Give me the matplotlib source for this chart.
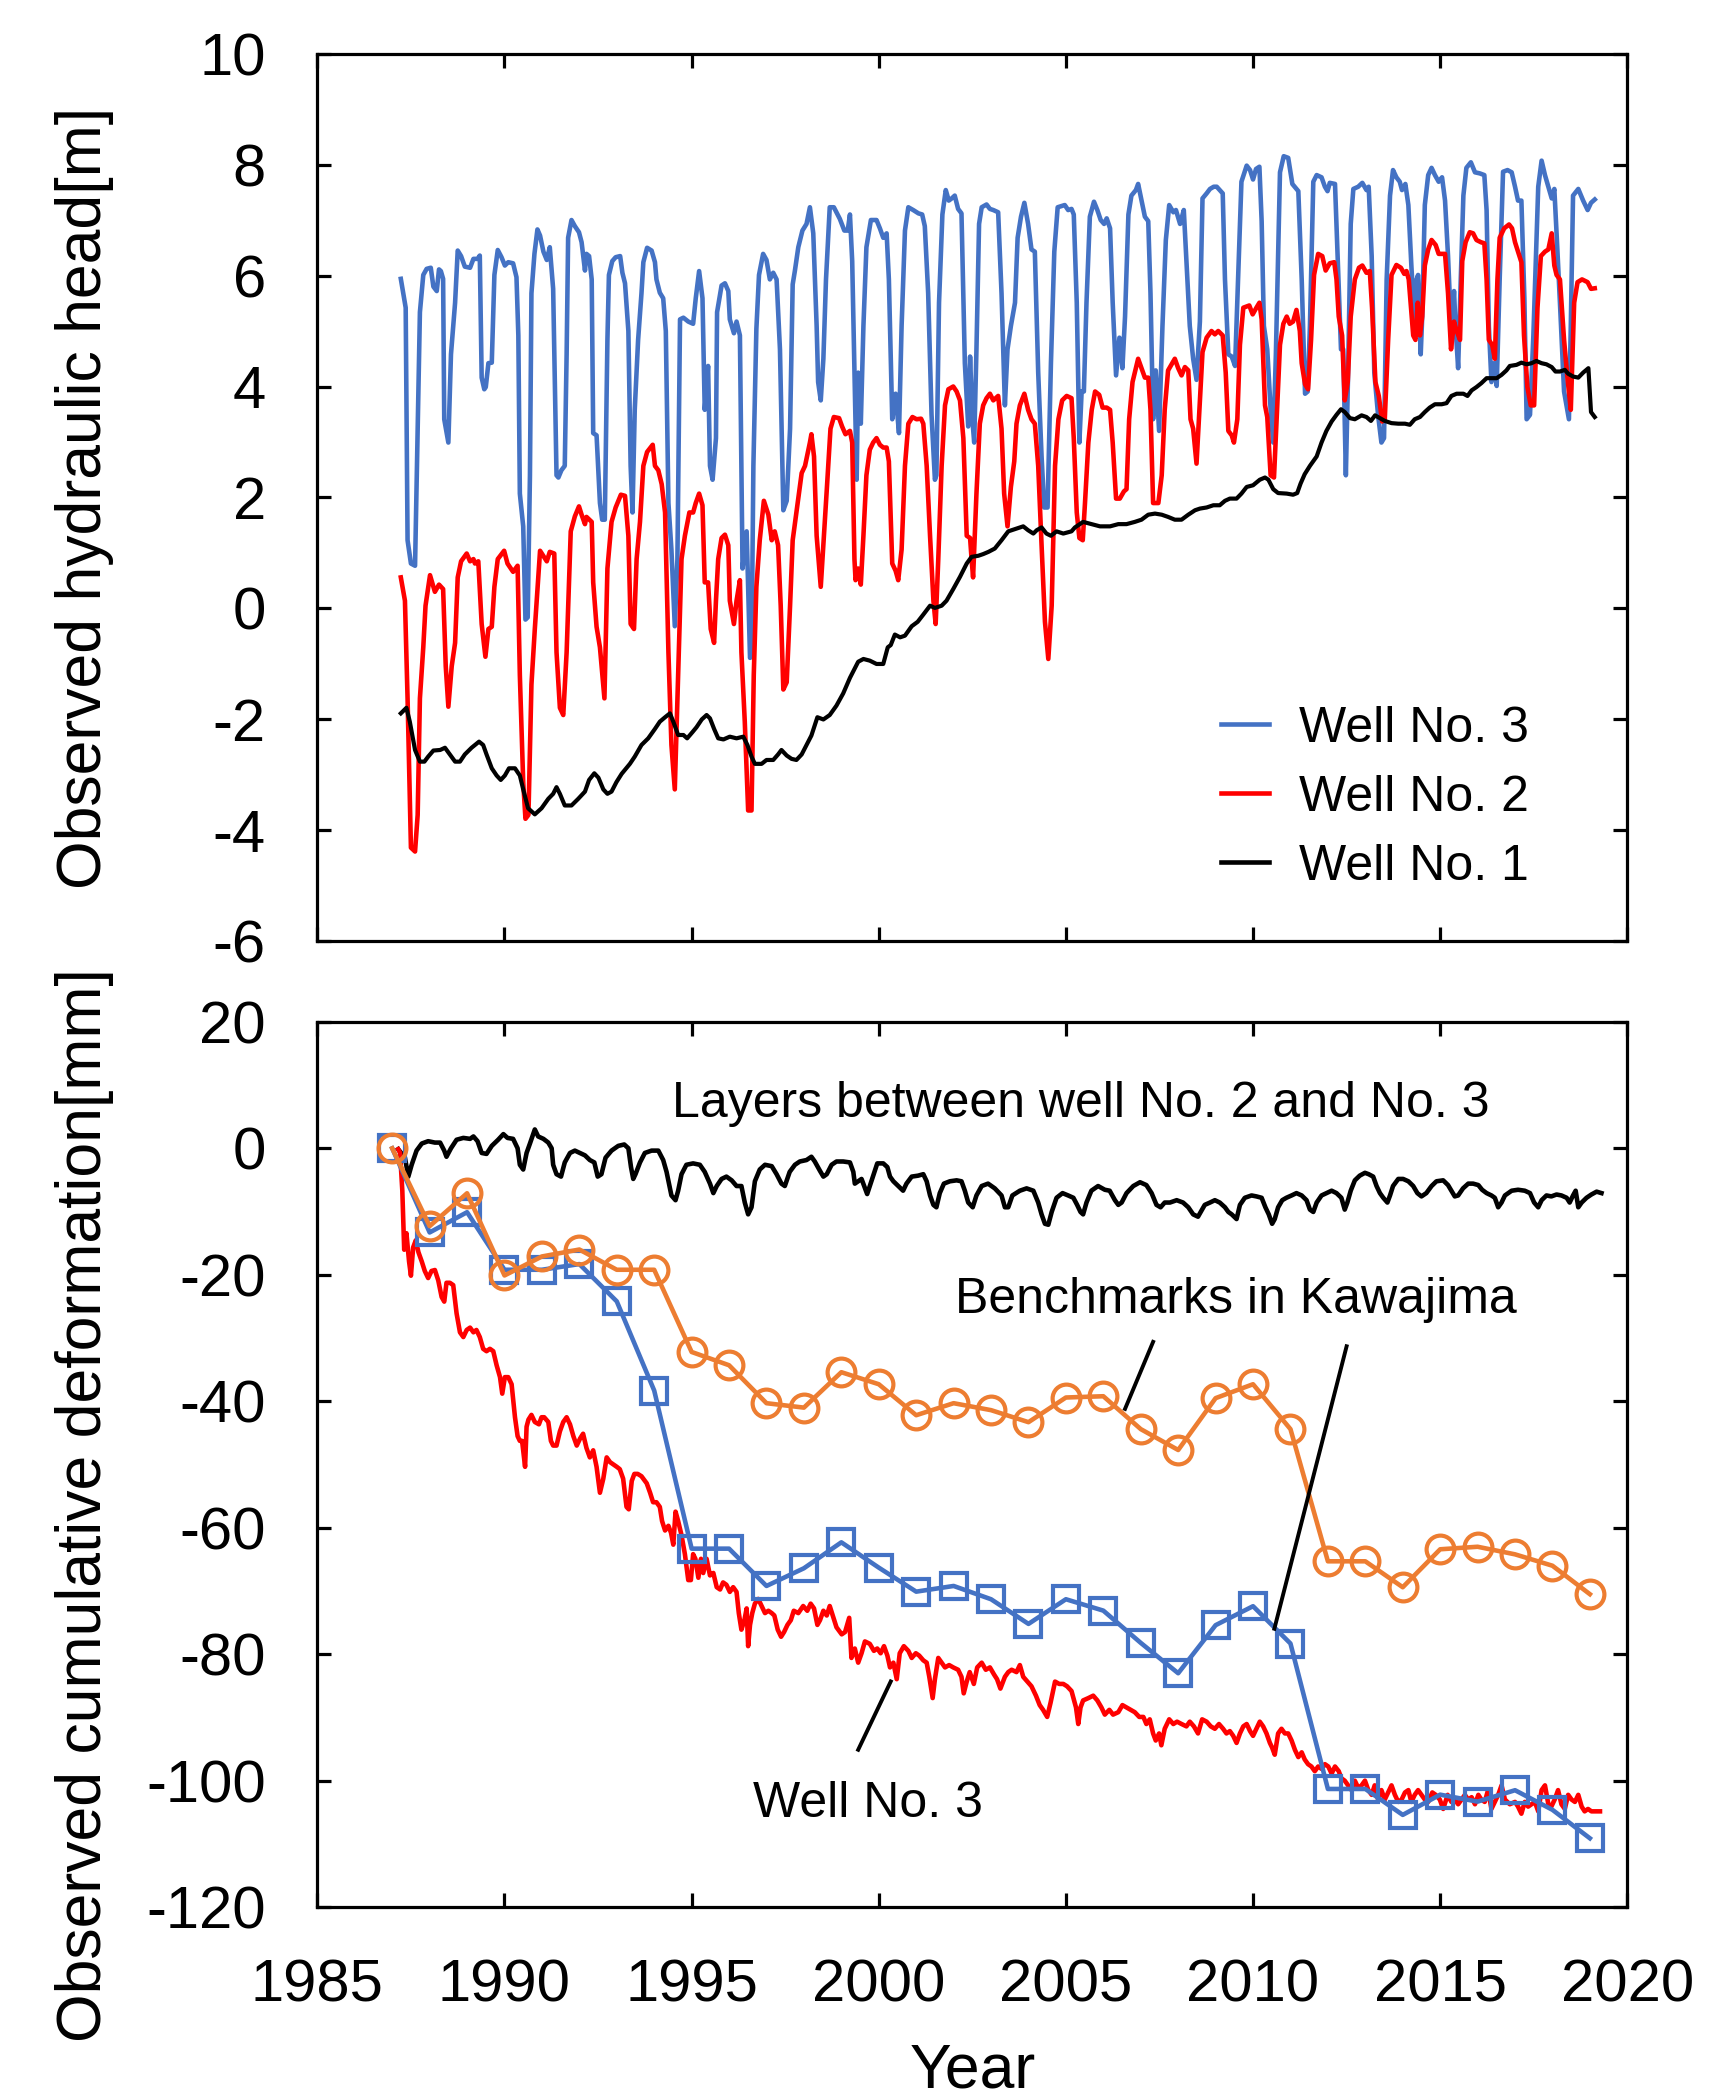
import matplotlib
matplotlib.use("Agg")
import numpy as np
import matplotlib.pyplot as plt
from matplotlib.lines import Line2D

plt.rcParams['font.family'] = ['Liberation Sans', 'DejaVu Sans']
plt.rcParams['axes.unicode_minus'] = False

# ---------------------------------------------------------------------------
# Top panel: observed hydraulic head [m]
# ---------------------------------------------------------------------------
well3_t = [1987.23, 1987.36, 1987.41, 1987.50, 1987.61, 1987.74, 1987.83, 1987.92, 1988.03, 1988.10,
           1988.19, 1988.25, 1988.30, 1988.36, 1988.39, 1988.50, 1988.57, 1988.68, 1988.75, 1988.84,
           1988.94, 1989.08, 1989.17, 1989.28, 1989.34, 1989.39, 1989.46, 1989.50, 1989.57, 1989.66,
           1989.73, 1989.82, 1989.92, 1990.01, 1990.10, 1990.23, 1990.32, 1990.37, 1990.41, 1990.50,
           1990.56, 1990.62, 1990.68, 1990.72, 1990.80, 1990.88, 1990.95, 1991.04, 1991.13, 1991.21,
           1991.30, 1991.39, 1991.44, 1991.52, 1991.61, 1991.66, 1991.70, 1991.79, 1991.88, 1991.99,
           1992.06, 1992.15, 1992.19, 1992.26, 1992.33, 1992.37, 1992.46, 1992.55, 1992.61, 1992.68,
           1992.75, 1992.79, 1992.88, 1992.97, 1993.09, 1993.15, 1993.22, 1993.31, 1993.37, 1993.42,
           1993.48, 1993.57, 1993.66, 1993.71, 1993.81, 1993.93, 1994.02, 1994.06, 1994.15, 1994.24,
           1994.31, 1994.38, 1994.46, 1994.55, 1994.62, 1994.69, 1994.78, 1994.91, 1995.04, 1995.11,
           1995.20, 1995.29, 1995.35, 1995.44, 1995.49, 1995.56, 1995.65, 1995.68, 1995.80, 1995.89,
           1995.98, 1996.02, 1996.13, 1996.20, 1996.29, 1996.33, 1996.36, 1996.47, 1996.56, 1996.60,
           1996.65, 1996.73, 1996.80, 1996.91, 1997.00, 1997.09, 1997.18, 1997.27, 1997.36, 1997.45,
           1997.54, 1997.63, 1997.70, 1997.76, 1997.85, 1997.96, 1998.07, 1998.16, 1998.25, 1998.34,
           1998.38, 1998.45, 1998.52, 1998.59, 1998.69, 1998.80, 1998.96, 1999.08, 1999.17, 1999.23,
           1999.29, 1999.35, 1999.41, 1999.45, 1999.52, 1999.59, 1999.67, 1999.79, 1999.94, 2000.03,
           2000.12, 2000.21, 2000.27, 2000.36, 2000.45, 2000.54, 2000.61, 2000.70, 2000.79, 2000.92,
           2001.06, 2001.16, 2001.23, 2001.32, 2001.41, 2001.50, 2001.54, 2001.61, 2001.70, 2001.79,
           2001.87, 2001.95, 2002.03, 2002.12, 2002.21, 2002.30, 2002.39, 2002.44, 2002.50, 2002.55,
           2002.61, 2002.68, 2002.75, 2002.88, 2002.97, 2003.06, 2003.19, 2003.28, 2003.37, 2003.44,
           2003.53, 2003.64, 2003.71, 2003.80, 2003.89, 2003.99, 2004.08, 2004.17, 2004.26, 2004.35,
           2004.42, 2004.51, 2004.60, 2004.69, 2004.78, 2004.88, 2004.97, 2005.06, 2005.15, 2005.21,
           2005.29, 2005.36, 2005.42, 2005.48, 2005.55, 2005.64, 2005.75, 2005.84, 2005.93, 2006.02,
           2006.09, 2006.18, 2006.25, 2006.34, 2006.43, 2006.51, 2006.58, 2006.67, 2006.75, 2006.87,
           2006.93, 2007.02, 2007.11, 2007.20, 2007.26, 2007.33, 2007.40, 2007.49, 2007.58, 2007.67,
           2007.76, 2007.87, 2007.94, 2008.05, 2008.15, 2008.22, 2008.31, 2008.40, 2008.49, 2008.58,
           2008.65, 2008.76, 2008.85, 2008.95, 2009.03, 2009.11, 2009.19, 2009.25, 2009.34, 2009.43,
           2009.52, 2009.60, 2009.69, 2009.83, 2009.92, 2010.00, 2010.08, 2010.17, 2010.23, 2010.29,
           2010.38, 2010.47, 2010.54, 2010.61, 2010.72, 2010.82, 2010.94, 2011.05, 2011.16, 2011.21,
           2011.30, 2011.39, 2011.46, 2011.52, 2011.61, 2011.70, 2011.83, 2011.92, 2011.99, 2012.05,
           2012.19, 2012.26, 2012.35, 2012.41, 2012.48, 2012.54, 2012.61, 2012.68, 2012.81, 2012.92,
           2013.03, 2013.09, 2013.17, 2013.24, 2013.34, 2013.43, 2013.50, 2013.57, 2013.66, 2013.74,
           2013.83, 2013.92, 2013.98, 2014.07, 2014.15, 2014.23, 2014.32, 2014.37, 2014.41, 2014.48,
           2014.52, 2014.59, 2014.68, 2014.77, 2014.86, 2014.96, 2015.05, 2015.13, 2015.21, 2015.30,
           2015.37, 2015.41, 2015.48, 2015.55, 2015.62, 2015.70, 2015.82, 2015.93, 2016.06, 2016.18,
           2016.24, 2016.30, 2016.37, 2016.44, 2016.51, 2016.59, 2016.68, 2016.80, 2016.91, 2017.00,
           2017.08, 2017.17, 2017.25, 2017.31, 2017.40, 2017.49, 2017.62, 2017.71, 2017.80, 2017.89,
           2017.98, 2018.05, 2018.11, 2018.20, 2018.31, 2018.44, 2018.49, 2018.55, 2018.69, 2018.82,
           2018.94, 2019.03, 2019.13]
well3_h = [5.94, 5.42, 1.23, 0.81, 0.77, 5.34, 6.01, 6.12, 6.14, 5.80,
           5.72, 6.11, 6.08, 5.94, 3.41, 2.99, 4.58, 5.51, 6.45, 6.35,
           6.16, 6.14, 6.30, 6.30, 6.36, 4.16, 3.95, 3.99, 4.42, 4.43,
           6.01, 6.46, 6.33, 6.18, 6.24, 6.22, 5.97, 4.92, 2.07, 1.48,
           -0.20, -0.16, 2.40, 5.68, 6.39, 6.83, 6.72, 6.43, 6.28, 6.51,
           5.76, 2.40, 2.36, 2.49, 2.57, 4.58, 6.68, 7.00, 6.89, 6.78,
           6.60, 6.09, 6.39, 6.35, 5.93, 3.16, 3.12, 1.90, 1.60, 1.60,
           4.84, 6.01, 6.26, 6.33, 6.35, 6.05, 5.86, 5.00, 2.57, 1.73,
           3.58, 4.84, 5.68, 6.24, 6.50, 6.45, 6.24, 5.93, 5.69, 5.59,
           5.00, 1.90, 1.06, -0.32, 0.89, 5.21, 5.24, 5.17, 5.13, 5.59,
           6.08, 5.59, 3.58, 4.37, 2.57, 2.32, 3.07, 5.34, 5.82, 5.86,
           5.72, 5.21, 4.96, 5.17, 4.92, 2.57, 0.72, 1.39, -0.89, -0.87,
           2.57, 5.04, 6.01, 6.39, 6.28, 5.93, 6.05, 5.93, 4.67, 1.77,
           1.94, 3.24, 5.84, 6.09, 6.51, 6.81, 6.93, 7.23, 6.76, 5.09,
           4.08, 3.75, 4.50, 5.93, 7.23, 7.23, 7.02, 6.81, 6.81, 7.10,
           6.26, 4.25, 2.32, 4.25, 3.33, 5.09, 6.51, 7.00, 7.00, 6.85,
           6.68, 6.76, 5.93, 3.41, 3.87, 3.16, 5.09, 6.81, 7.23, 7.18,
           7.12, 7.10, 6.89, 5.68, 3.49, 2.32, 2.40, 5.51, 7.10, 7.54,
           7.35, 7.39, 7.44, 7.20, 7.12, 4.42, 3.28, 4.54, 3.41, 2.99,
           4.67, 6.93, 7.23, 7.28, 7.20, 7.18, 7.14, 5.68, 3.66, 4.67,
           5.09, 5.51, 6.68, 7.06, 7.31, 6.93, 6.47, 6.43, 4.25, 2.74,
           1.82, 1.82, 4.42, 6.43, 7.23, 7.25, 7.27, 7.18, 7.20, 7.10,
           5.51, 2.99, 3.91, 3.91, 5.51, 7.06, 7.33, 7.18, 7.00, 6.93,
           7.03, 6.85, 5.51, 4.20, 4.88, 4.33, 5.26, 7.10, 7.44, 7.54,
           7.65, 7.35, 7.06, 6.98, 5.68, 3.41, 4.29, 3.20, 5.09, 6.64,
           7.27, 7.14, 7.18, 6.93, 7.18, 6.26, 5.09, 4.50, 4.12, 5.17,
           7.39, 7.48, 7.56, 7.60, 7.60, 7.54, 7.48, 5.93, 4.58, 4.54,
           4.37, 5.93, 7.69, 7.98, 7.90, 7.73, 7.92, 7.96, 6.98, 5.09,
           4.67, 3.58, 2.99, 4.58, 7.86, 8.15, 8.12, 7.65, 7.56, 7.52,
           5.93, 3.87, 3.91, 5.09, 7.69, 7.81, 7.77, 7.60, 7.52, 7.67,
           7.65, 6.35, 4.67, 4.67, 2.40, 4.25, 6.93, 7.56, 7.60, 7.67,
           7.54, 7.60, 6.35, 4.25, 3.49, 2.99, 3.07, 5.93, 7.44, 7.90,
           7.77, 7.69, 7.54, 7.65, 7.27, 6.18, 5.09, 5.93, 6.01, 4.58,
           5.26, 7.27, 7.81, 7.94, 7.81, 7.69, 7.77, 7.35, 6.35, 4.92,
           5.72, 5.09, 4.33, 5.93, 7.44, 7.94, 8.04, 7.86, 7.84, 7.81,
           7.18, 5.09, 4.08, 4.42, 4.01, 5.93, 7.87, 7.90, 7.86, 7.60,
           7.35, 7.35, 5.59, 3.41, 3.49, 4.92, 7.60, 8.07, 7.81, 7.60,
           7.39, 7.56, 6.76, 5.51, 3.91, 3.41, 5.09, 7.44, 7.56, 7.35,
           7.18, 7.31, 7.37]

well2_t = [1987.23, 1987.34, 1987.41, 1987.50, 1987.61, 1987.68, 1987.74, 1987.83, 1987.89, 1988.01,
           1988.14, 1988.25, 1988.36, 1988.43, 1988.50, 1988.59, 1988.68, 1988.75, 1988.84, 1988.99,
           1989.08, 1989.17, 1989.21, 1989.30, 1989.39, 1989.49, 1989.57, 1989.66, 1989.73, 1989.82,
           1989.99, 1990.08, 1990.23, 1990.35, 1990.41, 1990.50, 1990.56, 1990.64, 1990.72, 1990.81,
           1990.95, 1991.13, 1991.21, 1991.33, 1991.39, 1991.48, 1991.57, 1991.66, 1991.77, 1991.88,
           1991.99, 1992.06, 1992.15, 1992.19, 1992.33, 1992.37, 1992.46, 1992.55, 1992.67, 1992.75,
           1992.86, 1992.97, 1993.11, 1993.22, 1993.31, 1993.37, 1993.46, 1993.53, 1993.62, 1993.71,
           1993.81, 1993.96, 1994.02, 1994.11, 1994.20, 1994.29, 1994.38, 1994.46, 1994.55, 1994.64,
           1994.73, 1994.82, 1994.94, 1995.04, 1995.11, 1995.20, 1995.29, 1995.35, 1995.44, 1995.51,
           1995.60, 1995.65, 1995.71, 1995.80, 1995.89, 1995.98, 1996.02, 1996.13, 1996.20, 1996.29,
           1996.33, 1996.42, 1996.51, 1996.60, 1996.66, 1996.73, 1996.82, 1996.93, 1997.05, 1997.14,
           1997.22, 1997.31, 1997.38, 1997.45, 1997.54, 1997.63, 1997.70, 1997.80, 1997.94, 1998.03,
           1998.16, 1998.20, 1998.27, 1998.34, 1998.45, 1998.52, 1998.62, 1998.71, 1998.80, 1998.94,
           1999.02, 1999.11, 1999.23, 1999.29, 1999.35, 1999.38, 1999.45, 1999.52, 1999.59, 1999.67,
           1999.76, 1999.85, 1999.94, 2000.03, 2000.12, 2000.21, 2000.27, 2000.36, 2000.45, 2000.52,
           2000.61, 2000.70, 2000.79, 2000.90, 2001.01, 2001.13, 2001.19, 2001.28, 2001.37, 2001.46,
           2001.52, 2001.59, 2001.68, 2001.77, 2001.86, 2001.99, 2002.08, 2002.17, 2002.26, 2002.35,
           2002.44, 2002.48, 2002.52, 2002.61, 2002.70, 2002.79, 2002.88, 2002.97, 2003.06, 2003.19,
           2003.28, 2003.35, 2003.44, 2003.53, 2003.62, 2003.68, 2003.77, 2003.89, 2003.99, 2004.08,
           2004.17, 2004.26, 2004.35, 2004.44, 2004.53, 2004.62, 2004.71, 2004.80, 2004.90, 2005.02,
           2005.15, 2005.21, 2005.29, 2005.36, 2005.45, 2005.51, 2005.60, 2005.69, 2005.78, 2005.89,
           2005.98, 2006.09, 2006.18, 2006.25, 2006.34, 2006.44, 2006.55, 2006.62, 2006.69, 2006.78,
           2006.93, 2007.02, 2007.11, 2007.20, 2007.26, 2007.33, 2007.47, 2007.56, 2007.64, 2007.73,
           2007.91, 2008.00, 2008.09, 2008.18, 2008.27, 2008.33, 2008.40, 2008.49, 2008.58, 2008.65,
           2008.76, 2008.89, 2008.98, 2009.07, 2009.19, 2009.27, 2009.34, 2009.43, 2009.49, 2009.58,
           2009.65, 2009.74, 2009.90, 2009.99, 2010.09, 2010.17, 2010.23, 2010.32, 2010.38, 2010.47,
           2010.56, 2010.63, 2010.72, 2010.81, 2010.90, 2010.98, 2011.07, 2011.16, 2011.25, 2011.30,
           2011.39, 2011.47, 2011.55, 2011.63, 2011.74, 2011.85, 2011.94, 2012.05, 2012.17, 2012.23,
           2012.29, 2012.38, 2012.45, 2012.53, 2012.61, 2012.72, 2012.83, 2012.92, 2013.03, 2013.12,
           2013.18, 2013.27, 2013.36, 2013.45, 2013.52, 2013.61, 2013.70, 2013.83, 2013.95, 2014.04,
           2014.10, 2014.16, 2014.28, 2014.34, 2014.40, 2014.46, 2014.52, 2014.59, 2014.68, 2014.77,
           2014.88, 2014.96, 2015.13, 2015.21, 2015.29, 2015.37, 2015.44, 2015.53, 2015.59, 2015.68,
           2015.79, 2015.88, 2015.97, 2016.09, 2016.18, 2016.24, 2016.30, 2016.39, 2016.46, 2016.53,
           2016.59, 2016.71, 2016.84, 2016.92, 2017.00, 2017.08, 2017.17, 2017.24, 2017.33, 2017.42,
           2017.51, 2017.60, 2017.69, 2017.80, 2017.89, 2017.98, 2018.05, 2018.11, 2018.20, 2018.31,
           2018.40, 2018.49, 2018.58, 2018.67, 2018.79, 2018.94, 2019.03, 2019.13]
well2_h = [0.56, 0.14, -1.62, -4.31, -4.38, -3.72, -1.62, -0.70, 0.05, 0.60,
           0.30, 0.43, 0.35, -1.04, -1.77, -1.04, -0.62, 0.56, 0.85, 0.99,
           0.85, 0.89, 0.81, 0.85, -0.28, -0.87, -0.37, -0.33, 0.39, 0.89,
           1.04, 0.81, 0.66, 0.77, -1.20, -3.13, -3.79, -3.72, -1.37, -0.37,
           1.04, 0.85, 1.02, 0.99, -0.79, -1.79, -1.92, -0.79, 1.39, 1.66,
           1.84, 1.69, 1.52, 1.65, 1.56, 0.47, -0.33, -0.70, -1.62, 0.72,
           1.56, 1.82, 2.05, 2.03, 1.31, -0.28, -0.37, 0.89, 1.56, 2.57,
           2.82, 2.95, 2.57, 2.49, 2.24, 1.73, -0.79, -2.46, -3.26, -1.20,
           0.89, 1.31, 1.73, 1.73, 1.90, 2.07, 1.86, 0.47, 0.47, -0.37,
           -0.62, 0.14, 0.89, 1.27, 1.33, 1.14, 0.14, -0.28, 0.14, 0.51,
           -0.79, -2.04, -3.64, -3.64, -1.20, 0.39, 1.23, 1.94, 1.69, 1.23,
           1.39, 1.14, 0.05, -1.46, -1.33, 0.05, 1.23, 1.73, 2.44, 2.57,
           2.99, 3.14, 2.74, 1.31, 0.39, 1.14, 2.24, 3.24, 3.45, 3.43,
           3.28, 3.14, 3.20, 2.99, 0.89, 0.51, 0.72, 0.43, 1.31, 2.40,
           2.86, 2.99, 3.07, 2.95, 2.90, 2.90, 2.65, 0.81, 0.68, 0.51,
           1.06, 2.57, 3.33, 3.45, 3.41, 3.42, 3.33, 2.57, 1.31, 0.14,
           -0.28, 0.89, 2.57, 3.66, 3.95, 4.00, 3.91, 3.75, 3.07, 1.31,
           1.27, 0.89, 0.56, 2.07, 3.33, 3.66, 3.79, 3.87, 3.75, 3.83,
           3.24, 2.07, 1.48, 2.19, 2.65, 3.33, 3.66, 3.87, 3.58, 3.41,
           3.33, 2.57, 1.14, -0.24, -0.91, 0.05, 2.57, 3.41, 3.75, 3.83,
           3.79, 3.07, 1.73, 1.27, 1.23, 1.90, 2.99, 3.58, 3.91, 3.85,
           3.62, 3.62, 3.58, 2.99, 1.98, 1.98, 2.11, 2.15, 3.41, 4.08,
           4.50, 4.33, 4.16, 4.16, 3.58, 1.90, 1.90, 2.40, 3.58, 4.29,
           4.50, 4.33, 4.20, 4.35, 4.29, 3.41, 3.24, 2.61, 3.75, 4.62,
           4.88, 5.00, 4.94, 5.00, 4.92, 4.25, 3.20, 3.12, 2.99, 3.41,
           4.75, 5.42, 5.46, 5.30, 5.42, 5.51, 5.21, 3.66, 3.45, 2.40,
           2.36, 3.41, 4.75, 5.13, 5.26, 5.13, 5.17, 5.38, 5.00, 4.42,
           4.04, 3.95, 4.84, 6.01, 6.39, 6.35, 6.09, 6.22, 6.24, 5.93,
           5.26, 4.92, 3.75, 4.08, 5.26, 5.93, 6.14, 6.18, 6.05, 6.08,
           5.42, 4.08, 3.83, 3.37, 3.41, 4.84, 6.01, 6.19, 6.14, 6.03,
           6.08, 5.93, 4.92, 4.84, 5.51, 4.92, 5.26, 6.18, 6.47, 6.64,
           6.55, 6.39, 6.39, 5.68, 4.67, 5.17, 5.00, 4.84, 6.26, 6.60,
           6.78, 6.76, 6.64, 6.60, 6.58, 5.93, 4.84, 4.75, 4.50, 5.93,
           6.68, 6.85, 6.92, 6.85, 6.60, 6.43, 6.24, 4.92, 3.99, 3.66,
           3.66, 5.42, 6.35, 6.43, 6.47, 6.76, 6.18, 6.01, 5.93, 4.84,
           4.16, 3.58, 5.51, 5.88, 5.93, 5.88, 5.76, 5.77]

well1_t = [1987.23, 1987.38, 1987.47, 1987.61, 1987.74, 1987.86, 1987.96, 1988.10, 1988.28, 1988.41,
           1988.54, 1988.68, 1988.81, 1988.94, 1989.12, 1989.32, 1989.43, 1989.52, 1989.66, 1989.79,
           1989.90, 1990.01, 1990.12, 1990.28, 1990.41, 1990.50, 1990.63, 1990.81, 1990.99, 1991.17,
           1991.30, 1991.39, 1991.48, 1991.61, 1991.79, 1991.97, 1992.15, 1992.26, 1992.40, 1992.51,
           1992.64, 1992.75, 1992.86, 1992.99, 1993.13, 1993.35, 1993.48, 1993.66, 1993.84, 1994.02,
           1994.15, 1994.29, 1994.42, 1994.51, 1994.64, 1994.78, 1994.88, 1995.02, 1995.13, 1995.27,
           1995.40, 1995.49, 1995.60, 1995.71, 1995.85, 1996.02, 1996.20, 1996.38, 1996.49, 1996.60,
           1996.69, 1996.87, 1997.00, 1997.18, 1997.31, 1997.40, 1997.54, 1997.67, 1997.80, 1997.94,
           1998.07, 1998.20, 1998.36, 1998.52, 1998.69, 1998.87, 1999.05, 1999.23, 1999.45, 1999.59,
           1999.76, 1999.94, 2000.12, 2000.24, 2000.32, 2000.43, 2000.57, 2000.70, 2000.88, 2001.04,
           2001.19, 2001.37, 2001.50, 2001.68, 2001.81, 2001.99, 2002.17, 2002.35, 2002.48, 2002.66,
           2002.79, 2002.93, 2003.10, 2003.28, 2003.46, 2003.68, 2003.86, 2003.99, 2004.13, 2004.22,
           2004.35, 2004.48, 2004.60, 2004.75, 2004.93, 2005.15, 2005.24, 2005.46, 2005.69, 2005.91,
           2006.18, 2006.40, 2006.62, 2006.84, 2007.02, 2007.20, 2007.38, 2007.56, 2007.73, 2007.91,
           2008.09, 2008.27, 2008.45, 2008.58, 2008.76, 2008.94, 2009.11, 2009.25, 2009.38, 2009.56,
           2009.69, 2009.83, 2010.00, 2010.18, 2010.32, 2010.41, 2010.54, 2010.67, 2010.90, 2011.07,
           2011.18, 2011.27, 2011.38, 2011.52, 2011.70, 2011.83, 2011.96, 2012.10, 2012.23, 2012.35,
           2012.45, 2012.59, 2012.72, 2012.90, 2013.03, 2013.15, 2013.26, 2013.39, 2013.52, 2013.70,
           2013.88, 2014.06, 2014.19, 2014.32, 2014.46, 2014.59, 2014.72, 2014.86, 2015.04, 2015.17,
           2015.30, 2015.44, 2015.62, 2015.73, 2015.84, 2015.97, 2016.10, 2016.24, 2016.37, 2016.51,
           2016.64, 2016.77, 2016.86, 2017.04, 2017.17, 2017.31, 2017.44, 2017.57, 2017.71, 2017.84,
           2017.98, 2018.08, 2018.20, 2018.33, 2018.42, 2018.55, 2018.69, 2018.82, 2018.96, 2019.03,
           2019.13]
well1_h = [-1.89, -1.79, -2.04, -2.55, -2.76, -2.76, -2.67, -2.56, -2.55, -2.51,
           -2.63, -2.76, -2.76, -2.63, -2.51, -2.40, -2.46, -2.63, -2.88, -3.01,
           -3.09, -3.01, -2.88, -2.88, -3.01, -3.26, -3.60, -3.71, -3.60, -3.43,
           -3.34, -3.22, -3.34, -3.55, -3.55, -3.43, -3.30, -3.09, -2.97, -3.05,
           -3.26, -3.34, -3.30, -3.13, -2.98, -2.80, -2.67, -2.46, -2.34, -2.17,
           -2.04, -1.96, -1.89, -2.04, -2.28, -2.28, -2.34, -2.23, -2.14, -2.00,
           -1.92, -1.98, -2.17, -2.34, -2.36, -2.31, -2.34, -2.31, -2.46, -2.67,
           -2.80, -2.80, -2.73, -2.73, -2.63, -2.55, -2.65, -2.71, -2.73, -2.63,
           -2.46, -2.29, -1.96, -2.00, -1.92, -1.75, -1.53, -1.25, -0.96, -0.91,
           -0.94, -1.00, -1.00, -0.70, -0.66, -0.47, -0.52, -0.49, -0.32, -0.24,
           -0.11, 0.05, 0.01, 0.05, 0.14, 0.35, 0.57, 0.81, 0.93, 0.95,
           0.98, 1.02, 1.08, 1.23, 1.39, 1.44, 1.48, 1.41, 1.35, 1.41,
           1.46, 1.35, 1.31, 1.39, 1.35, 1.39, 1.46, 1.56, 1.52, 1.48,
           1.48, 1.52, 1.52, 1.56, 1.60, 1.69, 1.71, 1.69, 1.65, 1.60,
           1.60, 1.69, 1.77, 1.80, 1.82, 1.86, 1.86, 1.94, 1.98, 1.98,
           2.07, 2.19, 2.22, 2.32, 2.36, 2.32, 2.15, 2.08, 2.07, 2.05,
           2.08, 2.25, 2.42, 2.57, 2.74, 2.99, 3.20, 3.37, 3.49, 3.59,
           3.54, 3.43, 3.41, 3.48, 3.45, 3.38, 3.48, 3.43, 3.38, 3.34,
           3.33, 3.33, 3.31, 3.41, 3.45, 3.54, 3.62, 3.68, 3.68, 3.70,
           3.83, 3.87, 3.87, 3.83, 3.93, 3.99, 4.06, 4.15, 4.15, 4.15,
           4.21, 4.29, 4.37, 4.39, 4.43, 4.40, 4.42, 4.46, 4.42, 4.40,
           4.35, 4.27, 4.27, 4.30, 4.23, 4.18, 4.16, 4.25, 4.33, 3.54,
           3.45]

# ---------------------------------------------------------------------------
# Bottom panel: observed cumulative deformation [mm]
# ---------------------------------------------------------------------------
bench_years = list(range(1987, 2020))
kawajima_mm = [0, -12.3, -7.1, -20.1, -17.1, -16.0, -19.2, -19.2, -32.2, -34.3,
               -40.3, -41.0, -35.4, -37.3, -42.2, -40.3, -41.4, -43.3, -39.4, -39.2,
               -44.4, -47.7, -39.5, -37.3, -44.4, -65.3, -65.3, -69.4, -63.4, -63.0,
               -64.2, -66.0, -70.5]
bench2_mm = [0, -13.3, -10.1, -19.2, -19.2, -18.3, -24.2, -38.3, -63.3, -63.3,
             -69.2, -66.4, -62.3, -66.3, -70.1, -69.2, -71.3, -75.2, -71.3, -73.1,
             -78.2, -83.0, -75.4, -72.4, -78.3, -101.3, -101.3, -105.4, -102.2, -103.3,
             -101.5, -104.6, -109.1]

layers_t = [1987.16, 1987.34, 1987.43, 1987.52, 1987.65, 1987.79, 1987.96, 1988.14, 1988.28, 1988.39,
            1988.45, 1988.57, 1988.72, 1988.90, 1989.08, 1989.17, 1989.28, 1989.39, 1989.52, 1989.66,
            1989.83, 1989.97, 1990.08, 1990.23, 1990.35, 1990.41, 1990.50, 1990.59, 1990.68, 1990.81,
            1990.90, 1991.04, 1991.17, 1991.26, 1991.30, 1991.39, 1991.51, 1991.61, 1991.75, 1991.88,
            1992.01, 1992.15, 1992.28, 1992.40, 1992.49, 1992.59, 1992.70, 1992.86, 1993.04, 1993.20,
            1993.31, 1993.38, 1993.44, 1993.50, 1993.62, 1993.75, 1993.93, 1994.11, 1994.24, 1994.33,
            1994.46, 1994.57, 1994.64, 1994.73, 1994.86, 1995.04, 1995.22, 1995.35, 1995.49, 1995.58,
            1995.67, 1995.80, 1995.93, 1996.07, 1996.20, 1996.33, 1996.42, 1996.51, 1996.60, 1996.69,
            1996.82, 1996.96, 1997.14, 1997.27, 1997.40, 1997.49, 1997.62, 1997.76, 1997.89, 1998.07,
            1998.20, 1998.29, 1998.43, 1998.52, 1998.61, 1998.74, 1998.87, 1999.05, 1999.23, 1999.32,
            1999.36, 1999.45, 1999.54, 1999.69, 1999.96, 2000.12, 2000.23, 2000.30, 2000.39, 2000.52,
            2000.65, 2000.74, 2000.88, 2001.05, 2001.19, 2001.28, 2001.37, 2001.46, 2001.54, 2001.63,
            2001.74, 2001.90, 2002.08, 2002.21, 2002.30, 2002.39, 2002.51, 2002.61, 2002.75, 2002.92,
            2003.10, 2003.28, 2003.37, 2003.46, 2003.57, 2003.77, 2003.95, 2004.13, 2004.26, 2004.35,
            2004.44, 2004.53, 2004.62, 2004.75, 2004.91, 2005.06, 2005.20, 2005.30, 2005.39, 2005.46,
            2005.55, 2005.68, 2005.86, 2006.04, 2006.17, 2006.31, 2006.40, 2006.49, 2006.62, 2006.80,
            2006.98, 2007.15, 2007.29, 2007.42, 2007.53, 2007.64, 2007.78, 2007.96, 2008.13, 2008.27,
            2008.40, 2008.53, 2008.71, 2008.85, 2008.98, 2009.11, 2009.25, 2009.34, 2009.43, 2009.56,
            2009.65, 2009.78, 2009.96, 2010.09, 2010.23, 2010.33, 2010.42, 2010.51, 2010.58, 2010.67,
            2010.78, 2010.89, 2011.03, 2011.16, 2011.30, 2011.43, 2011.52, 2011.61, 2011.70, 2011.83,
            2011.96, 2012.10, 2012.23, 2012.36, 2012.45, 2012.52, 2012.61, 2012.72, 2012.85, 2012.99,
            2013.09, 2013.21, 2013.30, 2013.39, 2013.48, 2013.59, 2013.66, 2013.74, 2013.88, 2014.01,
            2014.15, 2014.28, 2014.39, 2014.50, 2014.63, 2014.77, 2014.90, 2015.08, 2015.21, 2015.30,
            2015.39, 2015.48, 2015.61, 2015.75, 2015.88, 2016.02, 2016.12, 2016.24, 2016.37, 2016.46,
            2016.55, 2016.64, 2016.73, 2016.91, 2017.08, 2017.26, 2017.40, 2017.51, 2017.62, 2017.71,
            2017.84, 2017.97, 2018.11, 2018.24, 2018.38, 2018.46, 2018.55, 2018.62, 2018.69, 2018.78,
            2018.91, 2019.04, 2019.18, 2019.31]
layers_mm = [-0.14, -1.48, -4.47, -2.60, -0.36, 0.76, 1.13, 0.91, 0.91, -0.36,
             -1.33, 0.01, 1.36, 1.65, 1.50, 1.88, 1.13, -0.73, -0.88, 0.39,
             1.36, 2.25, 1.65, 1.50, 0.01, -2.60, -3.35, -0.73, 0.76, 2.99,
             1.88, 1.50, 0.91, 0.01, -2.60, -4.09, -4.47, -2.23, -0.73, -0.36,
             -0.73, -1.11, -1.85, -2.23, -4.47, -4.09, -1.48, -0.36, 0.39, 0.61,
             0.01, -2.97, -4.84, -4.09, -2.23, -0.73, -0.36, -0.36, -1.85, -3.72,
             -7.45, -8.20, -6.70, -4.09, -2.60, -2.38, -2.60, -3.72, -5.58, -7.08,
             -5.96, -4.84, -4.47, -5.06, -5.96, -5.96, -8.57, -10.44, -9.32, -5.21,
             -3.35, -2.60, -2.82, -4.09, -5.58, -5.96, -3.72, -2.60, -2.08, -1.85,
             -1.33, -2.08, -3.57, -4.47, -4.09, -2.60, -2.08, -2.08, -2.23, -3.72,
             -5.58, -5.21, -4.84, -7.23, -2.38, -2.38, -2.97, -4.47, -5.21, -5.96,
             -6.70, -5.58, -4.47, -4.32, -4.09, -5.21, -7.45, -8.94, -9.32, -7.08,
             -5.58, -5.21, -5.06, -5.21, -6.70, -8.57, -9.32, -7.45, -5.96, -5.58,
             -6.33, -7.45, -9.32, -9.32, -7.45, -6.70, -6.33, -6.70, -8.57, -10.44,
             -11.93, -12.08, -10.06, -7.82, -7.08, -7.45, -7.82, -8.94, -10.06, -10.44,
             -8.57, -6.70, -5.96, -6.55, -6.70, -8.20, -8.94, -8.57, -7.08, -5.96,
             -5.36, -5.81, -7.08, -8.94, -9.32, -8.57, -8.57, -8.20, -8.57, -9.32,
             -10.44, -10.81, -8.94, -8.57, -8.20, -8.57, -9.32, -10.06, -10.44, -11.18,
             -8.94, -7.82, -7.45, -7.60, -7.82, -9.32, -10.44, -11.93, -11.18, -9.32,
             -8.20, -7.82, -7.45, -7.08, -7.45, -8.20, -9.69, -10.06, -8.57, -7.45,
             -7.08, -6.70, -7.08, -7.82, -9.69, -8.57, -6.70, -5.06, -4.32, -3.87,
             -4.09, -4.47, -5.96, -7.08, -7.82, -8.57, -7.45, -5.96, -4.84, -4.84,
             -5.21, -5.96, -7.08, -7.60, -7.08, -5.96, -5.21, -5.06, -5.81, -6.70,
             -7.60, -7.45, -6.33, -5.58, -5.58, -5.81, -6.55, -7.08, -7.45, -7.82,
             -9.32, -8.57, -7.45, -6.70, -6.55, -6.70, -7.08, -8.57, -9.32, -8.20,
             -7.45, -7.60, -7.30, -7.45, -7.82, -8.57, -7.45, -6.70, -9.32, -8.57,
             -7.82, -7.30, -6.85, -7.08]

sub3_t = [1987.16, 1987.21, 1987.27, 1987.32, 1987.38, 1987.45, 1987.50, 1987.56, 1987.63, 1987.70,
          1987.79, 1987.87, 1987.96, 1988.05, 1988.14, 1988.23, 1988.32, 1988.39, 1988.45, 1988.54,
          1988.63, 1988.72, 1988.81, 1988.90, 1988.99, 1989.08, 1989.17, 1989.25, 1989.34, 1989.43,
          1989.52, 1989.61, 1989.70, 1989.79, 1989.88, 1989.94, 1990.01, 1990.10, 1990.19, 1990.28,
          1990.35, 1990.41, 1990.47, 1990.55, 1990.59, 1990.64, 1990.72, 1990.81, 1990.92, 1990.99,
          1991.06, 1991.17, 1991.24, 1991.30, 1991.39, 1991.48, 1991.57, 1991.66, 1991.75, 1991.84,
          1991.93, 1992.02, 1992.10, 1992.19, 1992.28, 1992.37, 1992.46, 1992.55, 1992.64, 1992.73,
          1992.82, 1992.91, 1993.00, 1993.08, 1993.17, 1993.26, 1993.32, 1993.40, 1993.47, 1993.56,
          1993.66, 1993.80, 1993.89, 1993.97, 1994.06, 1994.15, 1994.21, 1994.29, 1994.38, 1994.45,
          1994.51, 1994.57, 1994.64, 1994.73, 1994.82, 1994.91, 1994.98, 1995.04, 1995.10, 1995.18,
          1995.25, 1995.31, 1995.40, 1995.49, 1995.58, 1995.67, 1995.76, 1995.84, 1995.93, 1996.02,
          1996.11, 1996.20, 1996.26, 1996.33, 1996.41, 1996.47, 1996.51, 1996.56, 1996.62, 1996.69,
          1996.78, 1996.87, 1996.96, 1997.05, 1997.14, 1997.21, 1997.30, 1997.39, 1997.47, 1997.56,
          1997.65, 1997.73, 1997.85, 1997.98, 1998.09, 1998.18, 1998.27, 1998.36, 1998.43, 1998.52,
          1998.61, 1998.69, 1998.77, 1998.87, 1999.01, 1999.10, 1999.21, 1999.27, 1999.36, 1999.45,
          1999.54, 1999.63, 1999.76, 1999.87, 1999.96, 2000.05, 2000.14, 2000.23, 2000.30, 2000.39,
          2000.48, 2000.56, 2000.67, 2000.79, 2000.88, 2000.99, 2001.08, 2001.19, 2001.28, 2001.35,
          2001.44, 2001.50, 2001.59, 2001.68, 2001.77, 2001.88, 2001.99, 2002.12, 2002.21, 2002.27,
          2002.35, 2002.43, 2002.54, 2002.63, 2002.75, 2002.86, 2002.97, 2003.08, 2003.16, 2003.25,
          2003.37, 2003.46, 2003.55, 2003.68, 2003.77, 2003.86, 2003.97, 2004.08, 2004.20, 2004.30,
          2004.39, 2004.50, 2004.59, 2004.71, 2004.82, 2004.93, 2005.03, 2005.15, 2005.27, 2005.33,
          2005.39, 2005.46, 2005.60, 2005.73, 2005.84, 2005.95, 2006.04, 2006.16, 2006.26, 2006.40,
          2006.51, 2006.62, 2006.73, 2006.84, 2006.96, 2007.07, 2007.15, 2007.24, 2007.33, 2007.40,
          2007.49, 2007.55, 2007.64, 2007.76, 2007.87, 2007.97, 2008.09, 2008.22, 2008.31, 2008.42,
          2008.53, 2008.64, 2008.76, 2008.87, 2008.98, 2009.09, 2009.20, 2009.29, 2009.38, 2009.47,
          2009.56, 2009.65, 2009.74, 2009.83, 2009.92, 2010.00, 2010.09, 2010.18, 2010.27, 2010.36,
          2010.45, 2010.51, 2010.58, 2010.67, 2010.76, 2010.85, 2010.94, 2011.03, 2011.12, 2011.21,
          2011.30, 2011.38, 2011.47, 2011.56, 2011.65, 2011.74, 2011.83, 2011.92, 2012.01, 2012.10,
          2012.19, 2012.29, 2012.36, 2012.45, 2012.54, 2012.63, 2012.72, 2012.81, 2012.90, 2012.99,
          2013.08, 2013.17, 2013.25, 2013.34, 2013.43, 2013.52, 2013.61, 2013.70, 2013.79, 2013.88,
          2013.97, 2014.06, 2014.15, 2014.23, 2014.32, 2014.41, 2014.50, 2014.59, 2014.68, 2014.79,
          2014.88, 2014.99, 2015.08, 2015.20, 2015.30, 2015.39, 2015.48, 2015.57, 2015.66, 2015.75,
          2015.84, 2015.93, 2016.02, 2016.10, 2016.19, 2016.28, 2016.37, 2016.46, 2016.55, 2016.64,
          2016.73, 2016.86, 2017.00, 2017.08, 2017.17, 2017.26, 2017.35, 2017.44, 2017.53, 2017.62,
          2017.71, 2017.80, 2017.89, 2017.97, 2018.06, 2018.15, 2018.24, 2018.33, 2018.42, 2018.51,
          2018.60, 2018.69, 2018.78, 2018.86, 2018.95, 2019.04, 2019.27]
sub3_mm = [-0.14, -0.73, -6.70, -16.03, -13.42, -17.90, -20.14, -15.66, -14.54, -16.41,
           -17.90, -19.39, -20.51, -19.39, -19.24, -20.88, -23.50, -24.24, -21.26, -21.26,
           -21.63, -26.11, -29.09, -29.84, -28.72, -28.35, -29.09, -28.72, -29.84, -31.70,
           -32.08, -31.70, -32.08, -34.31, -36.18, -38.79, -36.18, -36.18, -37.30, -42.52,
           -45.51, -46.26, -46.26, -50.36, -44.02, -42.90, -42.15, -43.27, -43.64, -42.52,
           -42.52, -43.27, -46.26, -47.00, -47.00, -44.76, -43.27, -42.52, -43.64, -45.51,
           -47.00, -45.88, -45.13, -47.38, -48.87, -47.75, -50.36, -54.46, -52.23, -48.87,
           -49.62, -49.99, -50.36, -50.73, -52.23, -56.70, -57.08, -52.60, -51.48, -51.48,
           -51.85, -52.97, -54.46, -55.96, -55.96, -56.70, -58.94, -60.43, -59.69, -60.81,
           -62.67, -57.45, -58.94, -61.18, -64.17, -68.27, -68.27, -64.17, -64.91, -67.90,
           -64.91, -67.15, -64.91, -67.53, -67.15, -69.39, -69.76, -68.64, -69.02, -70.14,
           -69.39, -70.14, -73.49, -76.11, -74.61, -72.75, -78.72, -75.36, -73.49, -71.99,
           -71.25, -72.37, -73.49, -73.12, -73.49, -73.87, -76.11, -77.23, -76.48, -75.36,
           -74.61, -73.12, -73.49, -72.37, -73.12, -72.00, -72.75, -75.36, -74.61, -73.12,
           -73.87, -72.37, -73.87, -75.73, -76.85, -76.48, -74.24, -80.58, -79.09, -81.33,
           -79.84, -77.97, -78.35, -79.46, -79.09, -79.84, -78.72, -80.21, -82.08, -81.33,
           -83.94, -79.84, -78.72, -79.46, -80.58, -79.84, -80.21, -80.96, -81.33, -83.57,
           -86.93, -83.94, -80.58, -81.33, -82.08, -81.71, -82.08, -82.45, -83.57, -86.18,
           -84.32, -82.82, -84.69, -82.08, -81.33, -82.45, -82.08, -83.20, -83.94, -85.43,
           -83.57, -82.82, -82.45, -82.82, -81.71, -83.57, -84.32, -85.06, -86.55, -88.04,
           -88.79, -89.91, -87.67, -84.32, -84.69, -84.69, -85.06, -85.81, -88.42, -91.03,
           -88.42, -87.30, -86.93, -86.55, -87.30, -88.42, -89.54, -88.79, -89.54, -89.16,
           -88.04, -88.42, -88.79, -89.16, -89.91, -89.91, -91.03, -90.29, -92.52, -93.64,
           -92.52, -94.39, -91.78, -90.29, -91.03, -90.66, -91.03, -91.40, -90.66, -91.40,
           -92.52, -90.29, -90.66, -91.40, -91.78, -91.03, -91.78, -92.52, -92.15, -92.90,
           -94.02, -92.52, -91.40, -91.03, -92.15, -92.90, -91.78, -90.66, -91.40, -92.52,
           -94.02, -94.76, -95.88, -92.52, -91.78, -92.52, -92.52, -93.64, -95.13, -96.26,
           -95.51, -96.63, -97.38, -97.75, -98.49, -97.75, -98.12, -97.38, -97.75, -98.87,
           -97.75, -98.49, -99.61, -99.99, -100.73, -101.48, -99.99, -101.11, -100.73, -99.99,
           -101.48, -102.23, -100.73, -102.97, -101.48, -102.97, -101.85, -100.73, -102.23, -103.35,
           -102.97, -101.85, -101.48, -103.35, -102.23, -101.48, -102.23, -102.97, -103.35, -101.85,
           -102.23, -102.97, -104.46, -102.23, -103.35, -102.97, -103.72, -102.97, -102.23, -102.97,
           -102.60, -103.72, -102.23, -102.97, -103.35, -101.48, -104.46, -103.35, -102.23, -100.73,
           -102.97, -103.72, -103.35, -104.09, -105.21, -103.35, -104.09, -103.72, -103.35, -104.84,
           -101.48, -100.73, -103.72, -104.09, -102.97, -101.48, -103.72, -104.46, -102.23, -102.97,
           -103.35, -102.23, -104.09, -104.84, -104.46, -104.84, -104.84]

BLUE = '#4472C4'
RED = '#FF0000'
ORANGE = '#ED7D31'
LW = 3.3

fig = plt.figure(figsize=(17.09, 21.0), dpi=100)
ax1 = fig.add_axes([0.1857, 0.5517, 0.7665, 0.4228])
ax2 = fig.add_axes([0.1857, 0.0918, 0.7665, 0.4216])

# --- top panel ---
ax1.plot(well3_t, well3_h, color=BLUE, lw=LW, label='Well No. 3')
ax1.plot(well2_t, well2_h, color=RED, lw=LW, label='Well No. 2')
ax1.plot(well1_t, well1_h, color='black', lw=3.0, label='Well No. 1')
ax1.set_xlim(1985, 2020)
ax1.set_ylim(-6, 10)
ax1.set_yticks(np.arange(-6, 11, 2))
ax1.set_xticks(np.arange(1985, 2021, 5))
ax1.tick_params(labelbottom=False)
ax1.set_ylabel('Observed hydraulic head[m]', fontsize=45)
ax1.yaxis.set_label_coords(-0.155, 0.5)

handles = [Line2D([], [], color=BLUE, lw=LW), Line2D([], [], color=RED, lw=LW),
           Line2D([], [], color='black', lw=LW)]
ax1.legend(handles, ['Well No. 3', 'Well No. 2', 'Well No. 1'], loc='center left',
           bbox_to_anchor=(0.69, 0.162), frameon=False, fontsize=36,
           handlelength=0.95, handletextpad=0.6, labelspacing=0.46,
           borderpad=0, borderaxespad=0)

# --- bottom panel ---
ax2.plot(layers_t, layers_mm, color='black', lw=LW)
ax2.plot(sub3_t, sub3_mm, color=RED, lw=LW)
ax2.plot(bench_years, bench2_mm, color=BLUE, lw=LW, marker='s', ms=19,
         mfc='none', mec=BLUE, mew=3.0)
ax2.plot(bench_years, kawajima_mm, color=ORANGE, lw=LW, marker='o', ms=20,
         mfc='none', mec=ORANGE, mew=3.0)
ax2.set_xlim(1985, 2020)
ax2.set_ylim(-120, 20)
ax2.set_yticks(np.arange(-120, 21, 20))
ax2.set_xticks(np.arange(1985, 2021, 5))
ax2.set_xlabel('Year', fontsize=45)
ax2.xaxis.set_label_coords(0.5, -0.152)
ax2.set_ylabel('Observed cumulative deformation[mm]', fontsize=45)
ax2.yaxis.set_label_coords(-0.155, 0.454)

ax2.text(2005.4, 4.9, 'Layers between well No. 2 and No. 3', ha='center',
         va='baseline', fontsize=36)
ax2.text(2009.55, -26.0, 'Benchmarks in Kawajima', ha='center', va='baseline',
         fontsize=36)
ax2.text(1999.7, -105.8, 'Well No. 3', ha='center', va='baseline', fontsize=36)
ax2.plot([2007.33, 2006.58], [-30.6, -41.2], color='black', lw=2.8)
ax2.plot([2012.50, 2010.57], [-31.3, -75.96], color='black', lw=2.8)
ax2.plot([2000.32, 1999.45], [-84.3, -95.1], color='black', lw=2.8)

for ax in (ax1, ax2):
    for sp in ax.spines.values():
        sp.set_linewidth(2.3)
    ax.tick_params(direction='in', length=10, width=2.3, top=True, right=True,
                   labelsize=43, pad=37)

fig.savefig('out.png', dpi=100)
